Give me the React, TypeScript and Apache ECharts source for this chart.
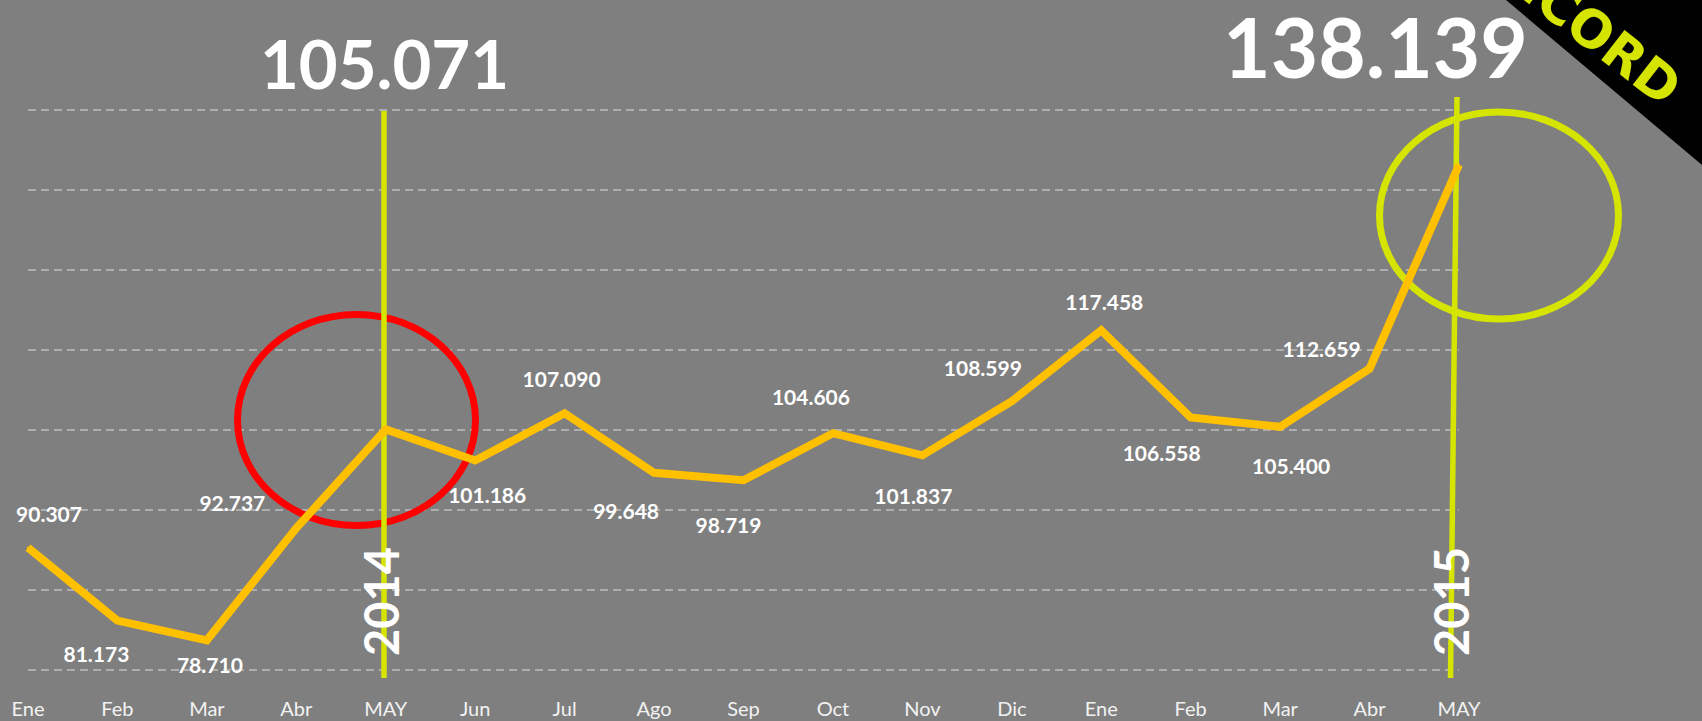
import React, { useEffect, useRef } from "react";
import * as echarts from "echarts";

// ---- data ----
const months = ["Ene", "Feb", "Mar", "Abr", "MAY", "Jun", "Jul", "Ago", "Sep", "Oct", "Nov", "Dic", "Ene", "Feb", "Mar", "Abr", "MAY"];
const values = [90307, 81173, 78710, 92737, 105071, 101186, 107090, 99648, 98719, 104606, 101837, 108599, 117458, 106558, 105400, 112659, 138139];
const gridValues = [75000, 85000, 95000, 105000, 115000, 125000, 135000, 145000];
const yearLabels = ["2014", "2015"];
const highlightIndex = [4, 16];
const bannerText = "RECORD";

// label placement (offset from point, px); null = no small label
const labelOffsets: ([number, number] | null)[] = [
  [21, -34], [-21, 33], [3, 24], [-64, -26], null, [12, 34], [-3, -35], [-28, 38], [-15, 44],
  [-22, -37], [-9, 40], [-29, -34], [3, -29], [-29, 35], [11, 39], [-48, -20], null,
];

const fmt = (v: number) => String(v).replace(/\B(?=(\d{3})+(?!\d))/g, ".");

const GOLD = "#ffc000";
const LIME = "#d5e400";

export default function App() {
  const ref = useRef<HTMLDivElement>(null);
  useEffect(() => {
    if (!ref.current) return;
    const chart = echarts.init(ref.current, undefined, { renderer: "svg" });
    const option: any = {
      animation: false,
      backgroundColor: "#7f7f7f",
      grid: { left: 28, right: 243, top: 110, bottom: 51 },
      xAxis: {
        type: "category",
        data: months,
        boundaryGap: false,
        axisLine: { show: false },
        axisTick: { show: false },
        splitLine: { show: false },
        axisLabel: { color: "#f2f2f2", fontFamily: "Lato", fontSize: 20, margin: 28, interval: 0 },
      },
      yAxis: { type: "value", min: 75000, max: 145000, show: false },
      series: [
        {
          type: "line",
          z: 3,
          data: values.map((v, i) => ({
            value: v,
            label: labelOffsets[i] ? { show: true, offset: labelOffsets[i] } : { show: false },
          })),
          symbol: "circle",
          symbolSize: 2,
          showSymbol: true,
          itemStyle: { color: GOLD },
          lineStyle: { color: GOLD, width: 8, cap: "butt", join: "miter" },
          label: {
            show: true,
            position: "inside",
            color: "#ffffff",
            fontFamily: "Lato",
            fontWeight: "bold",
            fontSize: 21,
            formatter: (p: any) => fmt(p.value),
          },
          markLine: {
            silent: true,
            z: 1,
            symbol: ["none", "none"],
            label: { show: false },
            lineStyle: { color: "#bfbfbf", type: [8, 5], width: 1.6 },
            data: gridValues.map((v) => ({ yAxis: v })),
          },
        },
      ],
      graphic: [
        { type: "ellipse", z: 2, shape: { cx: 356.5, cy: 420, rx: 119, ry: 105.5 }, style: { fill: "none", stroke: "#ff0000", lineWidth: 7 } },
        { type: "ellipse", z: 2, shape: { cx: 1499, cy: 215.5, rx: 119.5, ry: 103.5 }, style: { fill: "none", stroke: LIME, lineWidth: 7 } },
        { type: "line", z: 2, shape: { x1: 384, y1: 111, x2: 384, y2: 678 }, style: { stroke: LIME, lineWidth: 5.5 } },
        { type: "line", z: 2, shape: { x1: 1457, y1: 97, x2: 1450.5, y2: 678 }, style: { stroke: LIME, lineWidth: 5.5 } },
        {
          type: "text", z: 10, x: 380.5, y: 601.5, rotation: Math.PI / 2,
          style: { text: yearLabels[0], fill: "#ffffff", fontFamily: "Lato", fontWeight: "bold", fontSize: 47, align: "center", verticalAlign: "middle" },
        },
        {
          type: "text", z: 10, x: 1451, y: 601.5, rotation: Math.PI / 2,
          style: { text: yearLabels[1], fill: "#ffffff", fontFamily: "Lato", fontWeight: "bold", fontSize: 47, align: "center", verticalAlign: "middle" },
        },
        {
          type: "text", z: 10, x: 384.5, y: 63,
          style: { text: fmt(values[highlightIndex[0]]), fill: "#ffffff", fontFamily: "Lato", fontWeight: "bold", fontSize: 67, align: "center", verticalAlign: "middle" },
        },
        {
          type: "text", z: 10, x: 1375.5, y: 46,
          style: { text: fmt(values[highlightIndex[1]]), fill: "#ffffff", fontFamily: "Lato", fontWeight: "bold", fontSize: 82, lineHeight: 82, align: "center", verticalAlign: "middle" },
        },
        { type: "polygon", z: 11, shape: { points: [[1506, 0], [1702, 0], [1702, 165]] }, style: { fill: "#000000" } },
        {
          type: "text", z: 12, x: 1579, y: 20, rotation: -0.66,
          style: { text: bannerText, fill: LIME, fontFamily: "DejaVu Sans", fontWeight: "bold", fontSize: 52, align: "center", verticalAlign: "middle" },
        },
      ],
    };
    chart.setOption(option);
    return () => chart.dispose();
  }, []);
  return (
    <div
      ref={ref}
      style={{ position: "fixed", left: 0, top: 0, width: 1702, height: 721, background: "#7f7f7f" }}
    />
  );
}
